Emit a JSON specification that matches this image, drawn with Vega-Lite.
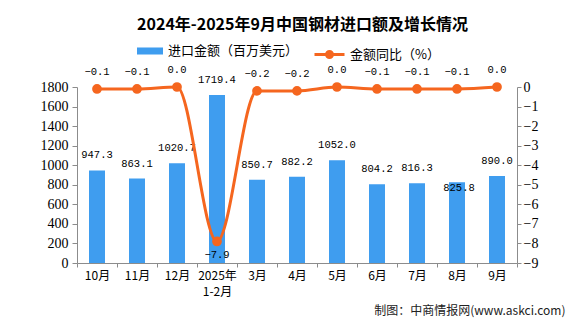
{
  "$schema": "https://vega.github.io/schema/vega-lite/v6.json",
  "width": 440,
  "height": 176,
  "autosize": {"type": "none"},
  "padding": {"left": 77, "top": 87, "right": 58, "bottom": 61},
  "background": "white",
  "title": {
    "text": "2024年-2025年9月中国钢材进口额及增长情况",
    "anchor": "middle",
    "frame": "bounds",
    "font": "Noto Sans CJK SC",
    "fontSize": 16,
    "fontWeight": "bold",
    "color": "#000000",
    "offset": 5
  },
  "config": {
    "view": {"stroke": null},
    "font": "Noto Sans CJK SC"
  },
  "data": {
    "values": [
      {"m": "10月", "v": 947.3, "g": -0.1},
      {"m": "11月", "v": 863.1, "g": -0.1},
      {"m": "12月", "v": 1020.7, "g": 0.0},
      {"m": "2025年1-2月", "v": 1719.4, "g": -7.9},
      {"m": "3月", "v": 850.7, "g": -0.2},
      {"m": "4月", "v": 882.2, "g": -0.2},
      {"m": "5月", "v": 1052.0, "g": 0.0},
      {"m": "6月", "v": 804.2, "g": -0.1},
      {"m": "7月", "v": 816.3, "g": -0.1},
      {"m": "8月", "v": 825.8, "g": -0.1},
      {"m": "9月", "v": 890.0, "g": 0.0}
    ]
  },
  "encoding": {
    "x": {
      "field": "m",
      "type": "nominal",
      "sort": null,
      "scale": {"paddingInner": 0, "paddingOuter": 0},
      "axis": {
        "title": "制图：中商情报网(www.askci.com)",
        "titleX": 488,
        "titleY": 47,
        "titleAlign": "right",
        "titleBaseline": "middle",
        "titleFontSize": 12,
        "titleFontWeight": "normal",
        "titleColor": "#222222",
        "labelAngle": 0,
        "labelFontSize": 12,
        "labelColor": "#000000",
        "labelPadding": 3,
        "labelLineHeight": 16,
        "labelExpr": "datum.value == '2025年1-2月' ? ['2025年', '1-2月'] : datum.value",
        "tickSize": 4,
        "tickBand": "extent",
        "domainColor": "#8c8c8c",
        "tickColor": "#8c8c8c"
      }
    }
  },
  "layer": [
    {
      "encoding": {
        "y": {
          "field": "v",
          "type": "quantitative",
          "scale": {"domain": [0, 1800], "nice": false},
          "axis": {
            "title": null,
            "values": [0, 200, 400, 600, 800, 1000, 1200, 1400, 1600, 1800],
            "format": "d",
            "grid": false,
            "labelFont": "Liberation Serif",
            "labelFontSize": 14,
            "labelColor": "#000000",
            "tickSize": 5,
            "labelPadding": 4,
            "domainColor": "#8c8c8c",
            "tickColor": "#8c8c8c"
          }
        }
      },
      "layer": [
        {
          "mark": {"type": "bar", "size": 16},
          "encoding": {
            "color": {
              "datum": "进口金额（百万美元）",
              "scale": {"range": ["#3f9def"]},
              "legend": {
                "orient": "none",
                "legendX": 60,
                "legendY": -49,
                "title": null,
                "symbolType": "M-1,-0.27H1V0.27H-1Z",
                "symbolSize": 676,
                "symbolStrokeWidth": 0,
                "labelFont": "Noto Sans CJK SC",
                "labelFontSize": 13,
                "labelColor": "#000000",
                "labelOffset": 5
              }
            }
          }
        },
        {
          "transform": [{"filter": "datum.m != '8月'"}],
          "mark": {"type": "text", "dy": -15, "font": "Liberation Mono", "fontSize": 10.5, "color": "#000000"},
          "encoding": {"text": {"field": "v", "type": "quantitative", "format": ".1f"}}
        },
        {
          "transform": [{"filter": "datum.m == '8月'"}],
          "mark": {"type": "text", "dy": 6, "dx": 2, "font": "Liberation Mono", "fontSize": 10.5, "color": "#000000"},
          "encoding": {"text": {"field": "v", "type": "quantitative", "format": ".1f"}}
        }
      ]
    },
    {
      "encoding": {
        "y": {
          "field": "g",
          "type": "quantitative",
          "scale": {"domain": [-9, 0], "nice": false},
          "axis": {
            "orient": "right",
            "title": null,
            "values": [-9, -8, -7, -6, -5, -4, -3, -2, -1, 0],
            "format": "d",
            "grid": false,
            "labelFont": "Liberation Serif",
            "labelFontSize": 14,
            "labelColor": "#000000",
            "tickSize": 4,
            "labelPadding": 2,
            "domainColor": "#8c8c8c",
            "tickColor": "#8c8c8c"
          }
        }
      },
      "layer": [
        {
          "mark": {
            "type": "line",
            "interpolate": "monotone",
            "strokeWidth": 3,
            "point": {"filled": true, "size": 60, "fill": "#f5661f", "color": "#f5661f"}
          },
          "encoding": {
            "stroke": {
              "datum": "金额同比（%）",
              "scale": {"range": ["#f5661f"]},
              "legend": {
                "orient": "none",
                "legendX": 236,
                "legendY": -49,
                "title": null,
                "symbolType": "M-1,0H1M-0.2,0A0.2,0.2,0,1,1,0.2,0A0.2,0.2,0,1,1,-0.2,0Z",
                "symbolSize": 900,
                "symbolStrokeWidth": 3,
                "symbolFillColor": "#f5661f",
                "labelFont": "Noto Sans CJK SC",
                "labelFontSize": 13,
                "labelColor": "#000000",
                "labelOffset": 4
              }
            }
          }
        },
        {
          "transform": [{"filter": "datum.g > -5"}],
          "mark": {"type": "text", "dy": -17, "font": "Liberation Mono", "fontSize": 10.5, "color": "#000000"},
          "encoding": {"text": {"field": "g", "type": "quantitative", "format": ".1f"}}
        },
        {
          "transform": [{"filter": "datum.g <= -5"}],
          "mark": {"type": "text", "dy": 14, "font": "Liberation Mono", "fontSize": 10.5, "color": "#000000"},
          "encoding": {"text": {"field": "g", "type": "quantitative", "format": ".1f"}}
        }
      ]
    }
  ],
  "resolve": {"scale": {"y": "independent", "color": "independent", "stroke": "independent"}}
}
